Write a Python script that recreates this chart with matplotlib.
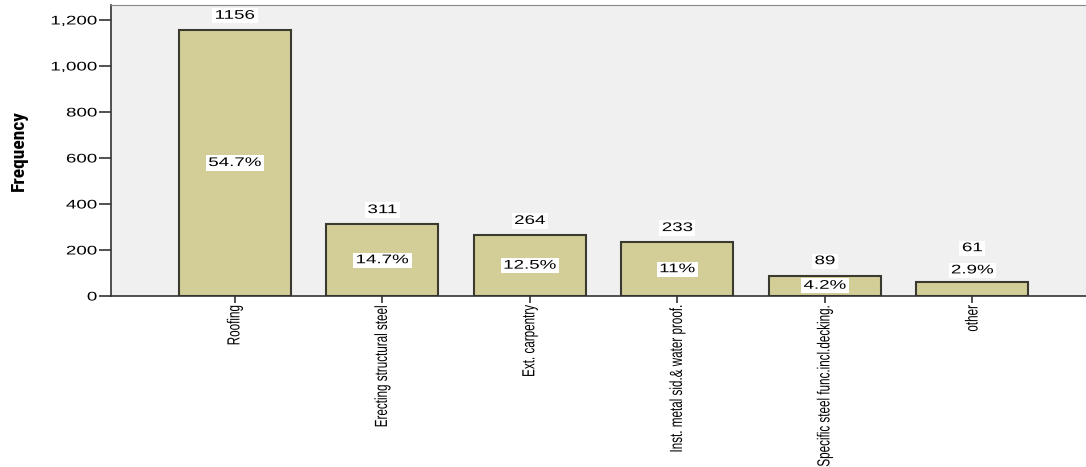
import matplotlib
matplotlib.use("Agg")
import matplotlib.pyplot as plt
from matplotlib.patheffects import AbstractPathEffect
from matplotlib.transforms import Affine2D
from matplotlib.ticker import FuncFormatter

categories = ["Roofing", "Erecting structural steel", "Ext. carpentry",
              "Inst. metal sid.& water proof.",
              "Specific steel func.incl.decking.", "other"]
counts = [1156, 311, 264, 233, 89, 61]
percents = ["54.7%", "14.7%", "12.5%", "11%", "4.2%", "2.9%"]

BAR_COLOR = "#d3ce98"
EDGE_COLOR = "#3a3a30"
SANS = ["Liberation Sans", "DejaVu Sans"]
NARROW = ["Roboto Condensed", "DejaVu Sans"]
STRETCH = 1.5


class HStretch(AbstractPathEffect):
    """Widen whatever is drawn along the screen x axis."""

    def __init__(self, sx=STRETCH, anchor="center"):
        super().__init__()
        self.sx = sx
        self.anchor = anchor

    def draw_path(self, renderer, gc, tpath, affine, rgbFace=None):
        ext = tpath.get_extents(affine)
        x0 = ext.x1 if self.anchor == "right" else (ext.x0 + ext.x1) / 2
        tr = affine + Affine2D().translate(-x0, 0).scale(self.sx, 1).translate(x0, 0)
        renderer.draw_path(gc, tpath, tr, rgbFace)


def widen(txt, anchor="center"):
    txt.set_path_effects([HStretch(anchor=anchor)])
    patch = txt.get_bbox_patch()
    if patch is not None:
        patch.set_path_effects([HStretch(anchor=anchor)])


fig = plt.figure(figsize=(10.86, 4.67), dpi=100)
ax = fig.add_axes([111 / 1086, 1 - 296 / 467, (1086 - 111) / 1086, (296 - 5) / 467])
ax.set_facecolor("#f0f0f0")

x = range(len(categories))
ax.bar(x, counts, width=0.76, color=BAR_COLOR, edgecolor=EDGE_COLOR,
       linewidth=1.5, zorder=2)

box = dict(facecolor="white", edgecolor="none", pad=1.2)
lbl = dict(ha="center", va="bottom", fontsize=9, family=SANS, bbox=box,
           zorder=3)
for i, (c, p) in enumerate(zip(counts, percents)):
    if c > 80:
        t1 = ax.annotate(str(c), (i, c), xytext=(0, 6),
                         textcoords="offset points", **lbl)
        t2 = ax.text(i, c / 2, p, ha="center", va="center", fontsize=9,
                     family=SANS, bbox=box, zorder=3)
    else:
        # bar too short for an inner label: stack both labels above it
        t2 = ax.annotate(p, (i, c), xytext=(0, 4),
                         textcoords="offset points", **lbl)
        t1 = ax.annotate(str(c), (i, c), xytext=(0, 20),
                         textcoords="offset points", **lbl)
    widen(t1)
    widen(t2)

ax.set_xlim(-0.84, 5.77)
ax.set_ylim(0, 1265)
ax.set_yticks(range(0, 1201, 200))
ax.yaxis.set_major_formatter(FuncFormatter(lambda v, _: f"{int(v):,}"))
ax.set_xticks(list(x))
ax.set_xticklabels(categories, rotation=90, family=SANS, fontsize=8.4)
for lab in ax.get_xticklabels():
    widen(lab)
for lab in ax.get_yticklabels():
    lab.set_family(SANS)
    lab.set_fontsize(9)
    widen(lab, anchor="right")

ax.tick_params(axis="y", length=9, width=1.2, color="#333333", pad=1)
ax.tick_params(axis="x", length=5, width=1.2, color="#333333", pad=1.5)

ax.set_ylabel("Frequency", family=NARROW, fontsize=14, fontweight="bold",
              labelpad=27)

for side in ("left", "bottom"):
    ax.spines[side].set_color("#333333")
    ax.spines[side].set_linewidth(1.2)
ax.spines["top"].set_color("#888888")
ax.spines["right"].set_visible(False)

fig.savefig("out.png", dpi=100)
